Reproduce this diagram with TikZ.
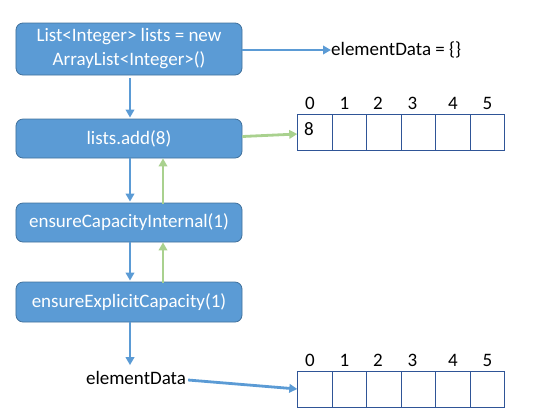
\documentclass[tikz,border=0pt]{standalone}
\usepackage{fontspec}
\setmainfont{Carlito}
\usetikzlibrary{arrows.meta,calc}
\definecolor{boxfill}{HTML}{5B9BD5}
\definecolor{boxline}{HTML}{41719C}
\definecolor{garrow}{HTML}{A9D18E}
\definecolor{cellline}{HTML}{2F5597}
\tikzset{
  stepbox/.style={draw=boxline, line width=0.8bp, fill=boxfill, rounded corners=7bp,
    minimum width=226bp, text=white, align=center, inner sep=0pt,
    font=\fontsize{19bp}{24bp}\selectfont},
  plain/.style={font=\fontsize{19bp}{24bp}\selectfont, inner sep=0pt},
  barrow/.style={draw=boxfill, line width=2.8bp, -{Triangle[length=8bp,width=8.5bp]}},
  garr/.style={draw=garrow, line width=2.8bp, -{Triangle[length=8bp,width=8.5bp]}},
  cell/.style={draw=cellline, line width=0.9bp, minimum width=34.5bp, minimum height=36bp, inner sep=0pt},
  idx/.style={font=\fontsize{19bp}{22bp}\selectfont, inner sep=0pt},
}
\begin{document}
\begin{tikzpicture}[x=1bp,y=-1bp]
\useasboundingbox (0,0) rectangle (546,418);
\node[stepbox, minimum height=52bp] (b1) at (129,49) {List<Integer> lists = new\\ArrayList<Integer>()};
\node[stepbox, minimum height=39bp] (b2) at (129,138.5) {lists.add(8)};
\node[stepbox, minimum height=39bp] (b3) at (129,222.5) {ensureCapacityInternal(1)};
\node[stepbox, minimum height=40bp] (b4) at (129,302) {ensureExplicitCapacity(1)};
\node[plain, anchor=west] (ed0) at (331,50) {elementData = \{\}};
\node[plain] (ed) at (136,378) {elementData};
% arrays
\foreach \i in {0,...,5} {
  \node[cell] (a\i) at ({315+34.5*\i},132) {};
  \node[cell] (c\i) at ({315+34.5*\i},389) {};
}
\foreach \i/\dx in {0/-5,1/-5,2/-6,3/-6,4/0,5/0} {
  \node[idx] (la\i) at ($(a\i.north)+(\dx,-10)$) {\i};
  \node[idx] (lc\i) at ($(c\i.north)+(\dx,-10)$) {\i};
}
\node[idx] (eight) at (309,129) {8};
% connectors
\draw[barrow] (b1.east |- ed0.west) -- (ed0.west);
\draw[barrow] ([xshift=1bp,yshift=-3bp]b1.south) -- ([xshift=1bp,yshift=1bp]b2.north);
\draw[barrow] ([xshift=1bp]b2.south) -- ([xshift=1bp,yshift=1bp]b3.north);
\draw[barrow] ([xshift=1bp]b3.south) -- ([xshift=1bp,yshift=1bp]b4.north);
\draw[barrow] ([xshift=1bp]b4.south) -- ($([xshift=1bp]b4.south |- ed.north)+(0,-6)$);
\draw[garr] ([xshift=34bp,yshift=-1bp]b3.north) -- ([xshift=34bp]b2.south);
\draw[garr] ([xshift=34bp,yshift=-1bp]b4.north) -- ([xshift=34bp]b3.south);
\draw[garr] ([yshift=2bp]b2.east) -- ([yshift=-2bp]a0.west);
\draw[barrow] ([xshift=2bp,yshift=-2bp]ed.east) -- (c0.west);
\end{tikzpicture}
\end{document}
